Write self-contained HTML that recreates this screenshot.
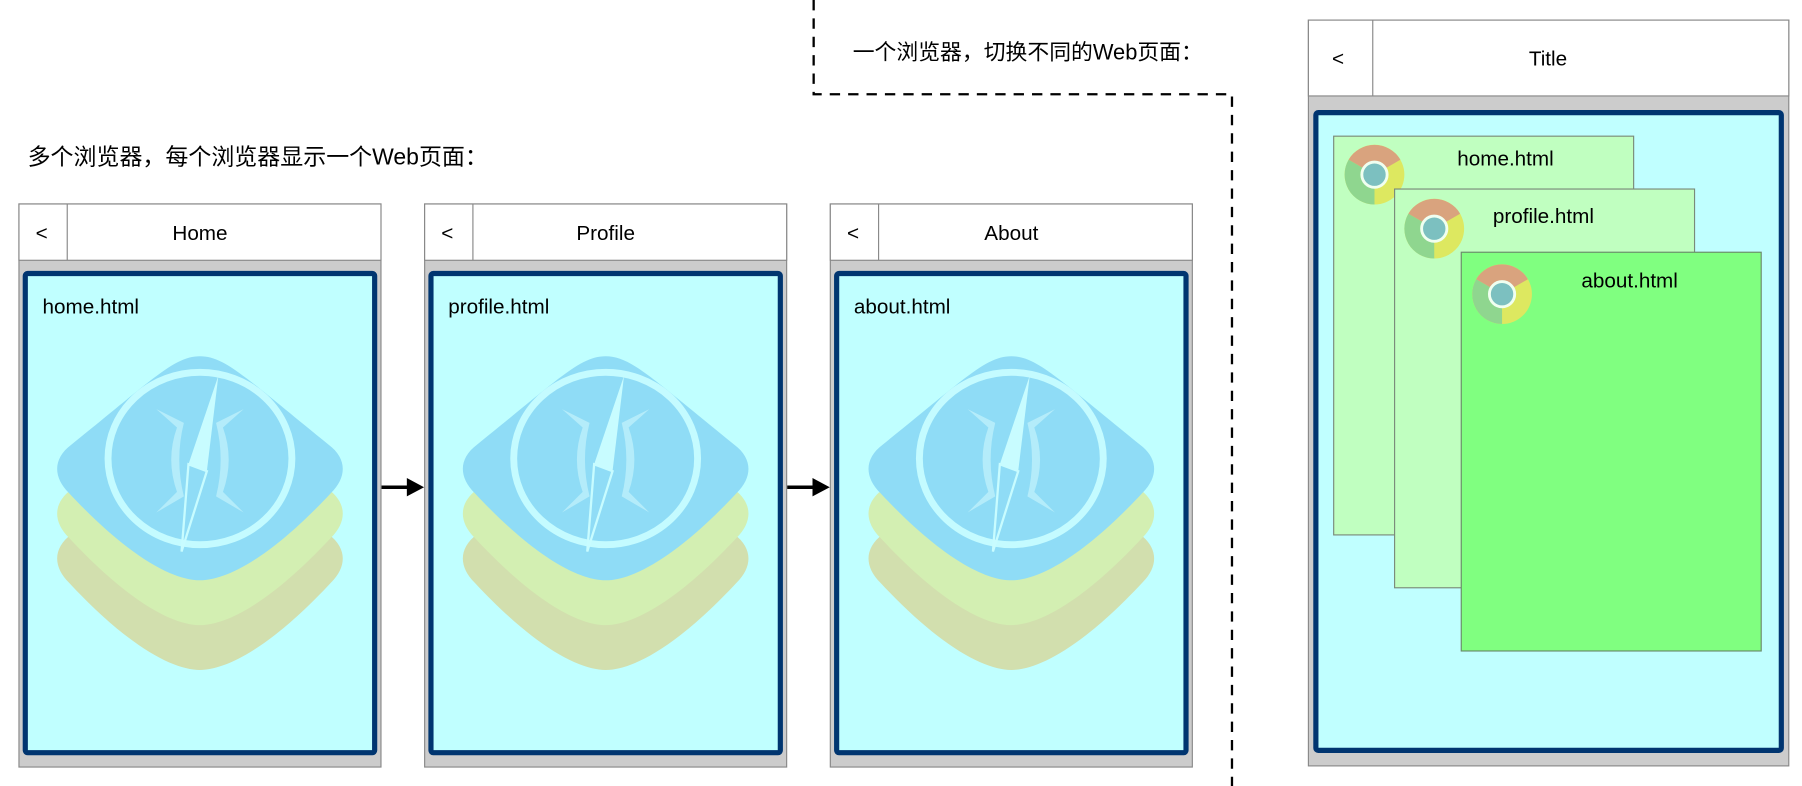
<!DOCTYPE html>
<html><head><meta charset="utf-8"><style>
html,body{margin:0;padding:0;background:#fff;}
svg{display:block;}
text{font-family:"Liberation Sans","Noto Sans CJK SC",sans-serif;fill:#000;}
</style></head><body>
<svg width="1802" height="786" viewBox="0 0 1568 684" preserveAspectRatio="none" xmlns="http://www.w3.org/2000/svg">
<defs>
<path id="dia" d="M0,-97 C22,-97 40,-78 112,-20 C128,-8 128,8 114,22 C60,80 22,98 0,98 C-22,98 -60,80 -114,22 C-128,8 -128,-8 -112,-20 C-40,-78 -22,-97 0,-97 Z"/>
<g id="icon">
  <use href="#dia" y="485" fill="#d2dfae"/>
  <use href="#dia" y="446" fill="#d3efb2"/>
  <use href="#dia" y="407" fill="#8fdcf6"/>
  <ellipse cx="0" cy="399" rx="80" ry="75" fill="none" stroke="#c4fbff" stroke-width="6"/>
  <path d="M-38,356 L-20,372 Q-30,400 -20,428 L-38,446 L-14,432 Q-22,400 -14,368 Z" fill="#b4ecfa"/>
  <path d="M38,356 L20,372 Q30,400 20,428 L38,446 L14,432 Q22,400 14,368 Z" fill="#b4ecfa"/>
  <polygon points="16,327 -10,404 6,410" fill="#c8fcff"/>
  <polygon points="-10,404 6,410 -16,480" fill="none" stroke="#c8fcff" stroke-width="2"/>
</g>
<g id="chrome">
  <circle r="26" fill="#dde860"/>
  <path d="M0,0 L-22.5,-13 A26,26 0 0 1 22.5,-13 Z" fill="#d9a37e"/>
  <path d="M0,0 L-22.5,-13 A26,26 0 0 0 0,26 Z" fill="#8fd68f"/>
  <circle r="11" fill="#7cc0c0" stroke="#f0fff0" stroke-width="2.5"/>
</g>
</defs>

<path d="M708,0 L708,82 L1072,82 L1072,684" fill="none" stroke="#000" stroke-width="2" stroke-dasharray="9,7"/>
<text x="742" y="52" font-size="19">一个浏览器，切换不同的Web页面：</text>
<text x="24" y="143" font-size="20">多个浏览器，每个浏览器显示一个Web页面：</text>

<rect x="16.5" y="177.5" width="315" height="490" fill="#cccccc" stroke="#888"/>
<rect x="16.5" y="177.5" width="315" height="49" fill="#fff" stroke="#888"/>
<line x1="58.5" y1="177.5" x2="58.5" y2="226.5" stroke="#888"/>
<rect x="22" y="238" width="304" height="417" rx="2" fill="#c0ffff" stroke="#003570" stroke-width="4.5"/>
<text x="31" y="209" font-size="18">&lt;</text>
<text x="174" y="209" font-size="18" text-anchor="middle">Home</text>
<text x="37" y="273" font-size="18">home.html</text>
<use href="#icon" x="174" y="0"/>

<rect x="369.5" y="177.5" width="315" height="490" fill="#cccccc" stroke="#888"/>
<rect x="369.5" y="177.5" width="315" height="49" fill="#fff" stroke="#888"/>
<line x1="411.5" y1="177.5" x2="411.5" y2="226.5" stroke="#888"/>
<rect x="375" y="238" width="304" height="417" rx="2" fill="#c0ffff" stroke="#003570" stroke-width="4.5"/>
<text x="384" y="209" font-size="18">&lt;</text>
<text x="527" y="209" font-size="18" text-anchor="middle">Profile</text>
<text x="390" y="273" font-size="18">profile.html</text>
<use href="#icon" x="527" y="0"/>

<rect x="722.5" y="177.5" width="315" height="490" fill="#cccccc" stroke="#888"/>
<rect x="722.5" y="177.5" width="315" height="49" fill="#fff" stroke="#888"/>
<line x1="764.5" y1="177.5" x2="764.5" y2="226.5" stroke="#888"/>
<rect x="728" y="238" width="304" height="417" rx="2" fill="#c0ffff" stroke="#003570" stroke-width="4.5"/>
<text x="737" y="209" font-size="18">&lt;</text>
<text x="880" y="209" font-size="18" text-anchor="middle">About</text>
<text x="743" y="273" font-size="18">about.html</text>
<use href="#icon" x="880" y="0"/>

<line x1="332" y1="424" x2="356" y2="424" stroke="#000" stroke-width="3"/>
<polygon points="354,416 369,424 354,432" fill="#000"/>
<line x1="685" y1="424" x2="709" y2="424" stroke="#000" stroke-width="3"/>
<polygon points="707,416 722,424 707,432" fill="#000"/>

<rect x="1138.5" y="17.5" width="418" height="649" fill="#cccccc" stroke="#888"/>
<rect x="1138.5" y="17.5" width="418" height="66" fill="#fff" stroke="#888"/>
<line x1="1194.5" y1="17.5" x2="1194.5" y2="83.5" stroke="#888"/>
<rect x="1145" y="98" width="405" height="555" rx="2" fill="#c0ffff" stroke="#003570" stroke-width="4.5"/>
<text x="1159" y="57" font-size="18">&lt;</text>
<text x="1347" y="57" font-size="18" text-anchor="middle">Title</text>

<rect x="1160.5" y="118.5" width="261" height="347" fill="#c0ffc0" stroke="#7a8a7a"/>
<use href="#chrome" x="1196" y="152"/>
<text x="1310" y="144" font-size="18" text-anchor="middle">home.html</text>

<rect x="1213.5" y="164.5" width="261" height="347" fill="#c0ffc0" stroke="#7a8a7a"/>
<use href="#chrome" x="1248" y="199"/>
<text x="1343" y="194" font-size="18" text-anchor="middle">profile.html</text>

<rect x="1271.5" y="219.5" width="261" height="347" fill="#80ff80" stroke="#6a8a6a"/>
<use href="#chrome" x="1307" y="256"/>
<text x="1418" y="250" font-size="18" text-anchor="middle">about.html</text>
</svg>
</body></html>
